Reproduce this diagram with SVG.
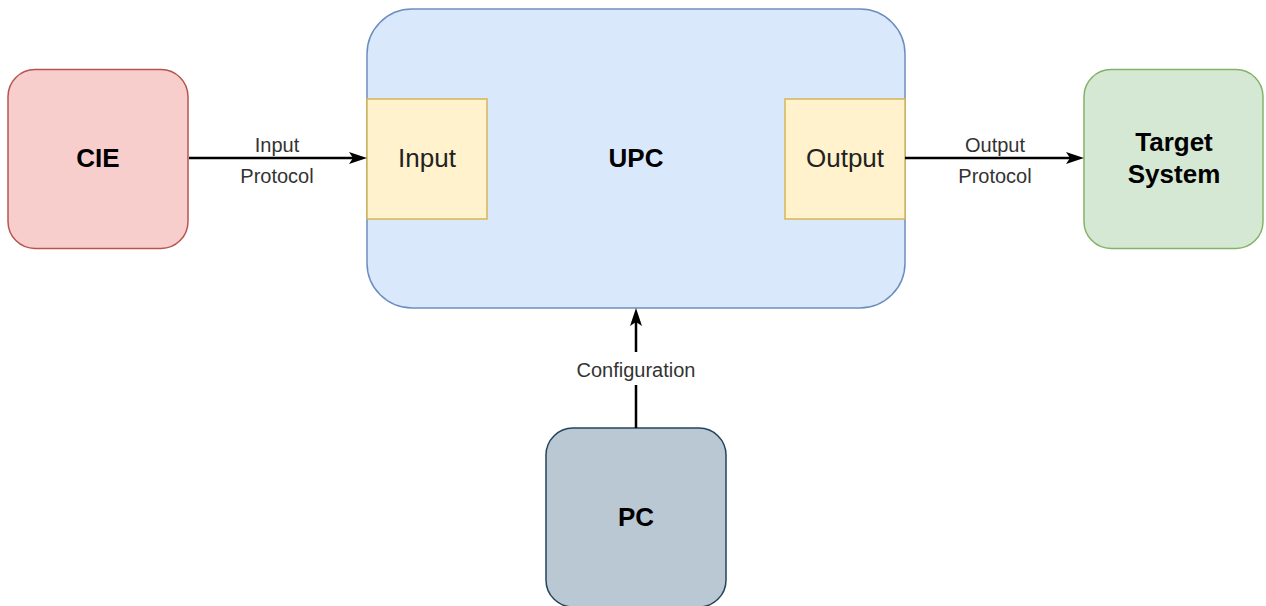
<svg xmlns="http://www.w3.org/2000/svg" width="1266" height="606" viewBox="0 0 1266 606">
  <style>
    .node { stroke-width: 1.5; }
    .bold { font-family: "Liberation Sans", Arial, sans-serif; font-weight: bold; font-size: 26px; fill: #000; text-anchor: middle; }
    .reg { font-family: "Liberation Sans", Arial, sans-serif; font-size: 26px; fill: #222; text-anchor: middle; }
    .lbl { font-family: "Liberation Sans", Arial, sans-serif; font-size: 20px; fill: #333; text-anchor: middle; }
    .edge { fill: none; stroke: #000; stroke-width: 2.5; marker-end: url(#arrow); }
  </style>
  <defs>
    <marker id="arrow" markerUnits="userSpaceOnUse" viewBox="0 0 18 12" markerWidth="18" markerHeight="12" refX="8" refY="6" orient="auto">
      <path d="M0,0 L18,6 L0,12 L4,6 Z" fill="#000"/>
    </marker>
  </defs>
  <rect width="1266" height="606" fill="#ffffff"/>

  <g id="CIE">
    <rect class="node" x="8" y="69.5" width="180" height="179" rx="27" ry="27" fill="#f8cecc" stroke="#b85450"/>
    <text class="bold" x="98" y="167">CIE</text>
  </g>

  <g id="UPC">
    <rect class="node" x="367" y="9" width="538" height="299" rx="45" ry="45" fill="#dae8fc" stroke="#6c8ebf"/>
    <text class="bold" x="636" y="167">UPC</text>
  </g>

  <g id="Input">
    <rect class="node" x="367" y="99" width="120" height="120" fill="#fff2cc" stroke="#d6b656"/>
    <text class="reg" x="427" y="167">Input</text>
  </g>

  <g id="Output">
    <rect class="node" x="785" y="99" width="120" height="120" fill="#fff2cc" stroke="#d6b656"/>
    <text class="reg" x="845" y="167">Output</text>
  </g>

  <g id="Target">
    <rect class="node" x="1084" y="69.5" width="179" height="179" rx="27" ry="27" fill="#d5e8d4" stroke="#82b366"/>
    <text class="bold" x="1174" y="151">Target</text>
    <text class="bold" x="1174" y="183">System</text>
  </g>

  <g id="PC">
    <rect class="node" x="546" y="428" width="180" height="179" rx="27" ry="27" fill="#bac8d3" stroke="#23445d"/>
    <text class="bold" x="636" y="526">PC</text>
  </g>

  <g id="connectors">
    <path class="edge" d="M189,158 H357"/>
    <text class="lbl" x="277" y="152">Input</text>
    <text class="lbl" x="277" y="183">Protocol</text>

    <path class="edge" d="M905,158 H1074"/>
    <text class="lbl" x="995" y="152">Output</text>
    <text class="lbl" x="995" y="183">Protocol</text>

    <path class="edge" d="M636,428 V385 M636,352 V318"/>
    <text class="lbl" x="636" y="377">Configuration</text>
  </g>
</svg>
